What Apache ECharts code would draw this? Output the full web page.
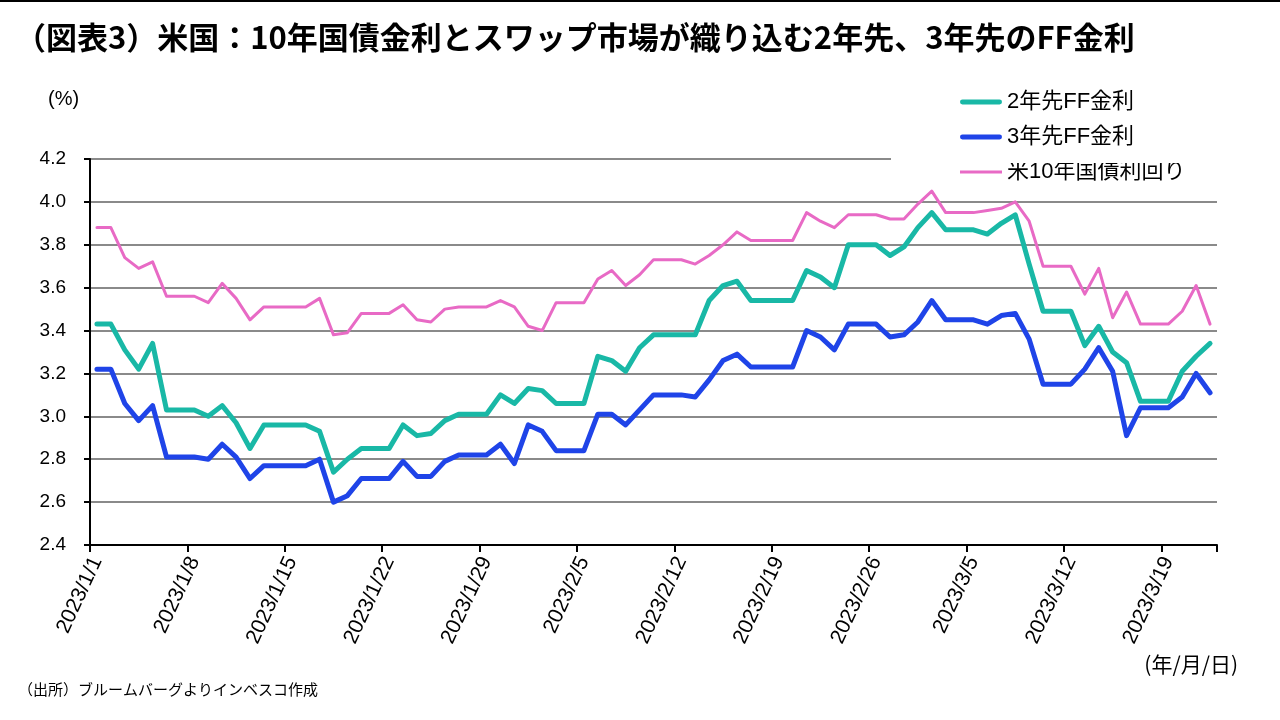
<!DOCTYPE html>
<html>
<head>
<meta charset="utf-8">
<script src="https://cdn.jsdelivr.net/npm/echarts@6/dist/echarts.min.js"></script>
<style>
html,body{margin:0;padding:0;background:#fff;}
#chart{width:1280px;height:720px;}
</style>
</head>
<body>
<div id="chart"></div>
<script>
// observation dates (business-day series as plotted)
const obsDates = [
 '2023/1/1','2023/1/2','2023/1/3','2023/1/4','2023/1/5','2023/1/6',
 '2023/1/8','2023/1/9','2023/1/10','2023/1/11','2023/1/12','2023/1/13',
 '2023/1/15','2023/1/16','2023/1/17','2023/1/18','2023/1/19','2023/1/20',
 '2023/1/22','2023/1/23','2023/1/24','2023/1/25','2023/1/26','2023/1/27',
 '2023/1/29','2023/1/30','2023/1/31','2023/2/1','2023/2/2','2023/2/3',
 '2023/2/5','2023/2/6','2023/2/7','2023/2/8','2023/2/9','2023/2/10',
 '2023/2/12','2023/2/13','2023/2/14','2023/2/15','2023/2/16','2023/2/17',
 '2023/2/19','2023/2/20','2023/2/21','2023/2/22','2023/2/23','2023/2/24',
 '2023/2/26','2023/2/27','2023/2/28','2023/3/1','2023/3/2','2023/3/3',
 '2023/3/5','2023/3/6','2023/3/7','2023/3/8','2023/3/9','2023/3/10',
 '2023/3/12','2023/3/13','2023/3/14','2023/3/15','2023/3/16','2023/3/17',
 '2023/3/19','2023/3/20','2023/3/21','2023/3/22'
];
// 2年先FF金利
const ff2y = [
 3.43,3.43,3.31,3.22,3.34,3.03,
 3.03,3.00,3.05,2.97,2.85,2.96,
 2.96,2.96,2.93,2.74,2.80,2.85,
 2.85,2.96,2.91,2.92,2.98,3.01,
 3.01,3.10,3.06,3.13,3.12,3.06,
 3.06,3.28,3.26,3.21,3.32,3.38,
 3.38,3.38,3.54,3.61,3.63,3.54,
 3.54,3.54,3.68,3.65,3.60,3.80,
 3.80,3.75,3.79,3.88,3.95,3.87,
 3.87,3.85,3.90,3.94,3.71,3.49,
 3.49,3.33,3.42,3.30,3.25,3.07,
 3.07,3.21,3.28,3.34
];
// 3年先FF金利
const ff3y = [
 3.22,3.22,3.06,2.98,3.05,2.81,
 2.81,2.80,2.87,2.81,2.71,2.77,
 2.77,2.77,2.80,2.60,2.63,2.71,
 2.71,2.79,2.72,2.72,2.79,2.82,
 2.82,2.87,2.78,2.96,2.93,2.84,
 2.84,3.01,3.01,2.96,3.03,3.10,
 3.10,3.09,3.17,3.26,3.29,3.23,
 3.23,3.23,3.40,3.37,3.31,3.43,
 3.43,3.37,3.38,3.44,3.54,3.45,
 3.45,3.43,3.47,3.48,3.36,3.15,
 3.15,3.22,3.32,3.21,2.91,3.04,
 3.04,3.09,3.20,3.11
];
// 米10年国債利回り
const ust10y = [
 3.88,3.88,3.74,3.69,3.72,3.56,
 3.56,3.53,3.62,3.55,3.45,3.51,
 3.51,3.51,3.55,3.38,3.39,3.48,
 3.48,3.52,3.45,3.44,3.50,3.51,
 3.51,3.54,3.51,3.42,3.40,3.53,
 3.53,3.64,3.68,3.61,3.66,3.73,
 3.73,3.71,3.75,3.80,3.86,3.82,
 3.82,3.82,3.95,3.91,3.88,3.94,
 3.94,3.92,3.92,3.99,4.05,3.95,
 3.95,3.96,3.97,4.00,3.91,3.70,
 3.70,3.57,3.69,3.46,3.58,3.43,
 3.43,3.49,3.61,3.43
];
const seriesNames = ['2年先FF金利', '3年先FF金利', '米10年国債利回り'];
const yTicks = [2.4, 2.6, 2.8, 3.0, 3.2, 3.4, 3.6, 3.8, 4.0, 4.2];

// calendar-day categories spanning the data (date axis)
function parseD(s){ const p = s.split('/').map(Number); return Date.UTC(p[0], p[1]-1, p[2]); }
const DAY = 86400000;
const firstDay = parseD(obsDates[0]);
const lastDay = parseD(obsDates[obsDates.length-1]);
const categories = [];
for (let t = firstDay; t <= lastDay; t += DAY) {
  const d = new Date(t);
  categories.push(d.getUTCFullYear() + '/' + (d.getUTCMonth()+1) + '/' + d.getUTCDate());
}
function align(vals){
  const m = {};
  obsDates.forEach((d,i)=>{ m[d] = vals[i]; });
  return categories.map(c => (c in m) ? m[c] : null);
}

const latin = 'Arial, "Liberation Sans", "Noto Sans CJK JP", sans-serif';
const jp = '"Noto Sans CJK JP", sans-serif';
const colors = ['#19B8A6', '#1F44E8', '#E86AC5'];

const chart = echarts.init(document.getElementById('chart'), null, {renderer:'canvas'});
chart.setOption({
  backgroundColor: '#ffffff',
  animation: false,
  title: {
    text: '（図表3）米国：10年国債金利とスワップ市場が織り込む2年先、3年先のFF金利',
    left: 10, top: 17,
    textStyle: { fontFamily: jp, fontWeight: 'bold', fontSize: 31, color: '#000' }
  },
  legend: {
    orient: 'vertical',
    left: 955, top: 86,
    itemWidth: 42, itemHeight: 5, itemGap: 13,
    textStyle: { fontFamily: latin, fontSize: 22, color: '#000' },
    data: [
      { name: seriesNames[0], icon: 'path://M2,0H40A2,2 0 0 1 40,5H2A2,2 0 0 1 2,0Z' },
      { name: seriesNames[1], icon: 'path://M2,0H40A2,2 0 0 1 40,5H2A2,2 0 0 1 2,0Z' },
      { name: seriesNames[2], icon: 'path://M0,0H42V3H0Z' }
    ]
  },
  grid: { left: 90, right: 63, top: 159, bottom: 175, containLabel: false },
  xAxis: {
    type: 'category',
    data: categories,
    boundaryGap: true,
    axisLine: { show: true, lineStyle: { color: '#000', width: 2 } },
    axisTick: { show: true, interval: 6, length: 7, lineStyle: { color: '#000', width: 2 } },
    axisLabel: {
      interval: 6, rotate: 65, margin: 13,
      fontFamily: latin, fontSize: 21, color: '#000'
    },
    splitLine: { show: false }
  },
  yAxis: {
    type: 'value',
    min: yTicks[0], max: yTicks[yTicks.length-1], interval: 0.2,
    axisLine: { show: true, lineStyle: { color: '#000', width: 2 } },
    axisTick: { show: true, length: 6, lineStyle: { color: '#000', width: 2 } },
    axisLabel: {
      margin: 24, fontFamily: latin, fontSize: 19, color: '#000',
      formatter: v => v.toFixed(1)
    },
    splitLine: { show: true, lineStyle: { color: '#8a8a8a', width: 2 } }
  },
  series: [
    { name: seriesNames[0], type: 'line', data: align(ff2y), connectNulls: true, symbol: 'none',
      lineStyle: { color: colors[0], width: 5, cap: 'round', join: 'round' }, itemStyle: { color: colors[0] } },
    { name: seriesNames[1], type: 'line', data: align(ff3y), connectNulls: true, symbol: 'none',
      lineStyle: { color: colors[1], width: 5, cap: 'round', join: 'round' }, itemStyle: { color: colors[1] } },
    { name: seriesNames[2], type: 'line', data: align(ust10y), connectNulls: true, symbol: 'none',
      lineStyle: { color: colors[2], width: 3, cap: 'round', join: 'round' }, itemStyle: { color: colors[2] } }
  ],
  graphic: [
    { type: 'rect', shape: { x: 0, y: 0, width: 1280, height: 2 }, style: { fill: '#000' }, z: 100 },
    { type: 'rect', shape: { x: 891, y: 155, width: 340, height: 8 }, style: { fill: '#fff' }, z: 100 },
    { type: 'text', left: 48, top: 89, style: { text: '(%)', font: '20px ' + latin, fill: '#000' } },
    { type: 'text', right: 42, top: 654, style: { text: '(年/月/日)', font: '21px ' + jp, fill: '#000' } },
    { type: 'text', left: 18, top: 682, style: { text: '（出所）ブルームバーグよりインベスコ作成', font: '15px ' + jp, fill: '#000' } }
  ]
});
</script>
</body>
</html>
